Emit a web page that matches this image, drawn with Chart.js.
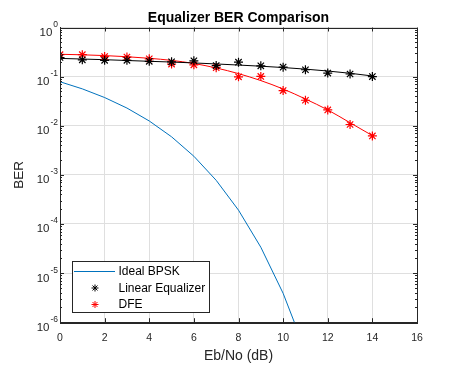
<!DOCTYPE html>
<html>
<head>
<meta charset="utf-8">
<script src="https://cdn.jsdelivr.net/npm/chart.js"></script>
<style>
  html, body { margin: 0; padding: 0; background: #fff; }
  #wrap { width: 461px; height: 368px; }
</style>
</head>
<body>
<div id="wrap"><canvas id="berChart" width="461" height="368"></canvas></div>
<script>
// values
const ebno = [0, 1, 2, 3, 4, 5, 6, 7, 8, 9, 10, 11, 12, 13, 14];
const idealEbno = [0, 1, 2, 3, 4, 5, 6, 7, 8, 9, 10, 11, 12];
const idealBer = [0.0786, 0.0563, 0.0375, 0.0229, 0.0125, 0.00595, 0.00239, 0.000773, 0.000191, 3.36e-5, 3.87e-6, 2.61e-7, 9.0e-9];
const linearBer = [0.245, 0.22, 0.215, 0.215, 0.205, 0.2, 0.21, 0.168, 0.197, 0.166, 0.156, 0.138, 0.118, 0.113, 0.1];
const dfeBer = [0.28, 0.28, 0.256, 0.25, 0.23, 0.18, 0.174, 0.152, 0.099, 0.101, 0.052, 0.033, 0.021, 0.0106, 0.0062];
const linearFit = [0.235, 0.228, 0.221, 0.213, 0.205, 0.198, 0.19, 0.181, 0.172, 0.163, 0.153, 0.142, 0.13, 0.117, 0.103];
const dfeFit = [0.285, 0.278, 0.268, 0.254, 0.236, 0.214, 0.185, 0.15, 0.115, 0.083, 0.056, 0.035, 0.021, 0.0115, 0.0063];
const xTicks = [0, 2, 4, 6, 8, 10, 12, 14, 16];
const yDecades = [1e-6, 1e-5, 1e-4, 1e-3, 1e-2, 1e-1, 1];
const chartTitle = 'Equalizer BER Comparison';

const AXIS = '#262626';
const GRID = '#dfdfdf';
const FONT = '"Liberation Sans", Arial, Helvetica, sans-serif';

function pts(xs, ys) {
  return ys.map((y, i) => ({ x: xs[i], y }));
}

function drawStar(ctx, x, y, r, color) {
  const q = r * 0.7071;
  ctx.strokeStyle = color;
  ctx.beginPath();
  ctx.moveTo(x - r, y); ctx.lineTo(x + r, y);
  ctx.moveTo(x, y - r); ctx.lineTo(x, y + r);
  ctx.moveTo(x - q, y - q); ctx.lineTo(x + q, y + q);
  ctx.moveTo(x - q, y + q); ctx.lineTo(x + q, y - q);
  ctx.stroke();
}

// title over the axes, y tick labels as 10^n, box edges, inner ticks, legend
const matlabAxes = {
  id: 'matlabAxes',
  afterDraw(chart) {
    const ctx = chart.ctx;
    const a = chart.chartArea;
    const xs = chart.scales.x, ys = chart.scales.y;
    ctx.save();

    ctx.fillStyle = '#000';
    ctx.font = 'bold 14px ' + FONT;
    ctx.textAlign = 'center';
    ctx.textBaseline = 'alphabetic';
    ctx.fillText(chartTitle, (a.left + a.right) / 2, 22);
    ctx.textAlign = 'left';

    ctx.strokeStyle = AXIS;
    ctx.lineWidth = 1;
    ctx.strokeRect(Math.round(a.left) + 0.5, Math.round(a.top) + 0.5, Math.round(a.right - a.left), Math.round(a.bottom - a.top));

    ctx.beginPath();
    xTicks.forEach(v => {
      const px = Math.round(xs.getPixelForValue(v)) + 0.5;
      ctx.moveTo(px, a.bottom); ctx.lineTo(px, a.bottom - 4);
      ctx.moveTo(px, a.top); ctx.lineTo(px, a.top + 4);
    });
    yDecades.forEach((d, i) => {
      const py = Math.round(ys.getPixelForValue(d)) + 0.5;
      ctx.moveTo(a.left, py); ctx.lineTo(a.left + 4, py);
      ctx.moveTo(a.right, py); ctx.lineTo(a.right - 4, py);
      if (i < yDecades.length - 1) {
        for (let m = 2; m <= 9; m++) {
          const my = Math.round(ys.getPixelForValue(d * m)) + 0.5;
          ctx.moveTo(a.left, my); ctx.lineTo(a.left + 2, my);
          ctx.moveTo(a.right, my); ctx.lineTo(a.right - 2, my);
        }
      }
    });
    ctx.stroke();

    ctx.fillStyle = AXIS;
    yDecades.forEach(d => {
      const py = ys.getPixelForValue(d);
      const exp = String(Math.round(Math.log10(d)));
      const right = a.left - 2;
      ctx.font = '8.5px ' + FONT;
      const ew = ctx.measureText(exp).width;
      ctx.fillText(exp, right - ew, py - 0.5);
      ctx.font = '11.5px ' + FONT;
      const bw = ctx.measureText('10').width;
      ctx.fillText('10', right - ew - bw - 1, py + 8.5);
    });

    // legend box in the lower left corner
    const lx = 72, ly = 261, lw = 137, lh = 51;
    ctx.fillStyle = '#fff';
    ctx.fillRect(lx, ly, lw, lh);
    ctx.strokeStyle = AXIS;
    ctx.strokeRect(lx + 0.5, ly + 0.5, lw, lh);
    const rows = [271, 288, 304.5];
    ctx.font = '12px ' + FONT;
    ctx.textBaseline = 'middle';
    chart.data.datasets.slice(0, 3).forEach((ds, i) => {
      const ry = rows[i];
      if (ds.showLine !== false) {
        ctx.strokeStyle = ds.borderColor;
        ctx.beginPath();
        ctx.moveTo(74, Math.round(ry) + 0.5); ctx.lineTo(115, Math.round(ry) + 0.5);
        ctx.stroke();
      } else {
        drawStar(ctx, 95, ry, 3.5, ds.borderColor);
      }
      ctx.fillStyle = '#000';
      ctx.fillText(ds.label, 118.5, ry + 0.5);
    });
    ctx.restore();
  }
};

new Chart(document.getElementById('berChart'), {
  type: 'line',
  data: {
    datasets: [
      { label: 'Ideal BPSK', data: pts(idealEbno, idealBer), borderColor: '#0072BD', borderWidth: 1, pointRadius: 0, fill: false, tension: 0 },
      { label: 'Linear Equalizer', data: pts(ebno, linearBer), showLine: false, pointStyle: 'star', pointRadius: 4.5, borderColor: '#000000', pointBorderColor: '#000000', pointBorderWidth: 1.2 },
      { label: 'DFE', data: pts(ebno, dfeBer), showLine: false, pointStyle: 'star', pointRadius: 4.5, borderColor: '#ff0000', pointBorderColor: '#ff0000', pointBorderWidth: 1.2 },
      { label: 'Linear fit', data: pts(ebno, linearFit), borderColor: '#000000', borderWidth: 1, pointRadius: 0, cubicInterpolationMode: 'monotone' },
      { label: 'DFE fit', data: pts(ebno, dfeFit), borderColor: '#ff0000', borderWidth: 1, pointRadius: 0, cubicInterpolationMode: 'monotone' }
    ]
  },
  options: {
    responsive: false,
    devicePixelRatio: 1,
    animation: false,
    layout: { padding: { left: 2, right: 44, top: 27.5, bottom: 0 } },
    plugins: {
      legend: { display: false },
      tooltip: { enabled: false },
      title: { display: false }
    },
    scales: {
      x: {
        type: 'linear',
        min: 0, max: 16,
        afterBuildTicks: s => { s.ticks = xTicks.map(v => ({ value: v })); },
        ticks: { color: AXIS, font: { family: FONT, size: 10.5 }, padding: 10, maxRotation: 0 },
        grid: { color: GRID, drawTicks: false },
        border: { color: AXIS },
        title: { display: true, text: 'Eb/No (dB)', color: AXIS, font: { family: FONT, size: 14 }, padding: { top: -7.2, bottom: 3.6 } }
      },
      y: {
        type: 'logarithmic',
        min: 1e-6, max: 1,
        afterBuildTicks: s => { s.ticks = yDecades.map(v => ({ value: v })); },
        ticks: { display: false },
        grid: { color: GRID, drawTicks: false },
        border: { color: AXIS },
        title: { display: true, text: 'BER', color: AXIS, font: { family: FONT, size: 13.5 }, padding: { top: 9, bottom: 32.8 } }
      }
    }
  },
  plugins: [matlabAxes]
});
</script>
</body>
</html>
